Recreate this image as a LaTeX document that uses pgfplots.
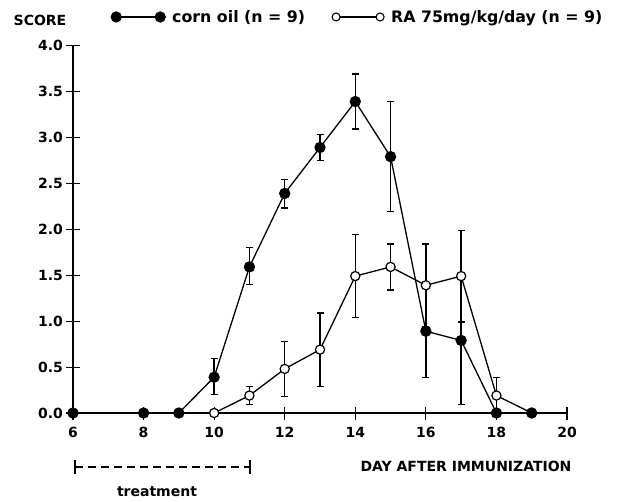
\documentclass[border=0pt]{standalone}
\usepackage{fontspec}
\setmainfont{DejaVu Sans}
\usepackage{pgfplots}
\usepackage{pgfplotstable}
\pgfplotsset{compat=1.18}

\pgfplotstableread{
x y ep em
6 0 0 0
8 0 0 0
9 0 0 0
10 0.39 0.20 0.19
11 1.59 0.21 0.19
12 2.39 0.15 0.16
13 2.89 0.14 0.14
14 3.39 0.30 0.30
15 2.79 0.60 0.60
16 0.89 0.50 0.50
17 0.79 0.70 0.70
18 0 0 0
19 0 0 0
}\corn

\pgfplotstableread{
x y ep em
10 0 0 0
11 0.19 0.10 0.10
12 0.48 0.30 0.30
13 0.69 0.40 0.40
14 1.49 0.45 0.45
15 1.59 0.25 0.25
16 1.39 0.45 0.45
17 1.49 0.50 0.50
18 0.19 0.20 0.19
19 0 0 0
}\ra

\begin{document}
\begin{tikzpicture}[font=\bfseries\fontsize{14}{16}\selectfont]
\begin{axis}[
  scale only axis,
  width=494pt, height=367.5pt,
  xmin=6, xmax=20, ymin=0, ymax=4,
  axis lines=left,
  axis line style={-, line width=1.3pt},
  xtick={6,8,...,20},
  ytick={0,0.5,...,4},
  tick align=center,
  major tick length=13pt,
  tick style={line width=1.1pt, black},
  /pgf/number format/assume math mode=true,
  yticklabel style={/pgf/number format/fixed, /pgf/number format/fixed zerofill, /pgf/number format/precision=1, font=\bfseries\fontsize{14}{16}\selectfont},
  xticklabel style={font=\bfseries\fontsize{14}{16}\selectfont, yshift=-4pt},
  clip=false,
  legend columns=2,
  legend style={at={(0.077,1.0776)}, anchor=west, draw=none, fill=none, inner sep=0pt,
    font=\bfseries\fontsize{15.8}{17}\selectfont,
    nodes={inner xsep=7pt},
    /tikz/every even column/.append style={column sep=20pt}},
  legend image code/.code={\draw[mark repeat=2,mark phase=1,#1] plot coordinates {(0pt,0pt)(22pt,0pt)(44pt,0pt)};},
  error bars/y dir=both,
  error bars/y explicit,
  error bars/error mark options={rotate=90, mark size=3.5pt, line width=1.3pt, black},
  error bars/error bar style={line width=1.3pt, black},
]
\addlegendimage{black, line width=1.2pt, mark=*, mark size=5pt, mark options={fill=black}}
\addlegendentry{corn oil (n = 9)}
\addlegendimage{black, line width=1.2pt, mark=*, mark size=4pt, mark options={fill=white, line width=1.1pt}}
\addlegendentry{RA 75mg/kg/day (n = 9)}
\addplot[forget plot, black, line width=1.3pt, mark=*, mark size=4.6pt, mark options={fill=white, line width=1.2pt}]
  table[x=x, y=y, y error plus=ep, y error minus=em] {\ra};
\addplot[forget plot, black, line width=1.3pt, mark=*, mark size=5pt, mark options={fill=black}]
  table[x=x, y=y, y error plus=ep, y error minus=em] {\corn};
\end{axis}
\node at (-33pt,393pt) {SCORE};
\draw[line width=1.3pt, dash pattern=on 8pt off 5pt] (2pt,-54pt) -- (177pt,-54pt);
\draw[line width=1.5pt] (2pt,-47pt) -- (2pt,-61pt);
\draw[line width=1.5pt] (177pt,-47pt) -- (177pt,-61pt);
\node at (84pt,-79pt) {treatment};
\node at (393pt,-53pt) {DAY AFTER IMMUNIZATION};
\pgfresetboundingbox
\path[use as bounding box] (-73pt,-88pt) rectangle (547pt,413pt);
\end{tikzpicture}
\end{document}
